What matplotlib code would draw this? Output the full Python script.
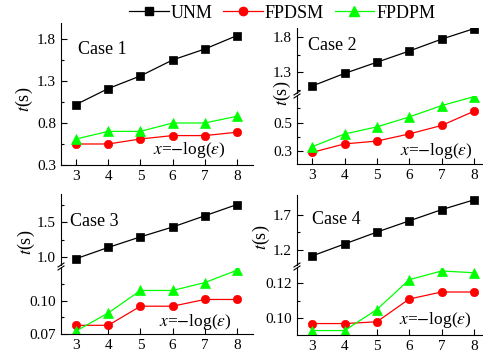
import matplotlib
matplotlib.use('Agg')
import matplotlib.pyplot as plt
from matplotlib.lines import Line2D

plt.rcParams['font.family'] = ['Liberation Serif', 'DejaVu Serif']
plt.rcParams['mathtext.fontset'] = 'stix'
plt.rcParams['font.size'] = 11

x = [3, 4, 5, 6, 7, 8]

# Case 1
unm_1 = [1.02, 1.21, 1.36, 1.55, 1.68, 1.84]
fpdsm_1 = [0.55, 0.55, 0.61, 0.65, 0.65, 0.69]
fpdpm_1 = [0.61, 0.70, 0.70, 0.80, 0.80, 0.88]
# Case 2
unm_2 = [1.10, 1.28, 1.44, 1.60, 1.77, 1.92]
fpdsm_2 = [0.29, 0.35, 0.37, 0.42, 0.48, 0.58]
fpdpm_2 = [0.33, 0.42, 0.47, 0.54, 0.62, 0.683]
# Case 3
unm_3 = [0.98, 1.14, 1.29, 1.43, 1.59, 1.75]
fpdsm_3 = [0.078, 0.078, 0.095, 0.095, 0.101, 0.101]
fpdpm_3 = [0.073, 0.089, 0.109, 0.109, 0.116, 0.127]
# Case 4
unm_4 = [1.11, 1.28, 1.45, 1.61, 1.77, 1.91]
fpdsm_4 = [0.097, 0.097, 0.098, 0.111, 0.115, 0.115]
fpdpm_4 = [0.093, 0.093, 0.105, 0.122, 0.127, 0.126]

W, H = 483, 358
fig = plt.figure(figsize=(W / 100, H / 100), dpi=100)


def box(l, t, r, b):
    # piksel -> koordinat figure
    return [l / W, 1 - b / H, (r - l) / W, (b - t) / H]


def px(xp, yp):
    return xp / W, 1 - yp / H


styles = [
    dict(color='black', marker='s', ms=5.5),
    dict(color='red', marker='o', ms=6),
    dict(color='#00ff00', marker='^', ms=6.5),
]


def style_ax(ax, bottom=True):
    for s in ['top', 'right']:
        ax.spines[s].set_visible(False)
    ax.tick_params(direction='in', length=4, width=0.8, labelsize=11)
    ax.tick_params(which='minor', direction='in', length=2.5, width=0.8)
    ax.set_xlim(2.53, 8.5)
    ax.set_xticks(x)
    ax.xaxis.set_minor_locator(plt.NullLocator())
    if not bottom:
        ax.spines['bottom'].set_visible(False)
        ax.tick_params(axis='x', bottom=False, labelbottom=False)


def draw(ax, series):
    for ys, st in zip(series, styles):
        ax.plot(x, ys, lw=0.9, markeredgewidth=0.5, markeredgecolor=st['color'], **st)


def yticks(ax, major, minor, fmt):
    ax.set_yticks(major)
    ax.set_yticks(minor, minor=True)
    ax.set_yticklabels([fmt % v for v in major])


def break_mark(xp, yp):
    for dy in (-1.5, 1.5):
        x0, y0 = px(xp - 3, yp + dy + 2)
        x1, y1 = px(xp + 3, yp + dy - 2)
        fig.add_artist(Line2D([x0, x1], [y0, y1], color='black', lw=0.8))


# Panel 1
ax1 = fig.add_axes(box(61, 23, 253, 165))
style_ax(ax1)
draw(ax1, [unm_1, fpdsm_1, fpdpm_1])
ax1.set_ylim(0.3, 1.99)
yticks(ax1, [0.3, 0.8, 1.3, 1.8], [0.55, 1.05, 1.55], '%.1f')

# Panel 2
ax2u = fig.add_axes(box(297, 28, 490, 93))
ax2l = fig.add_axes(box(297, 96, 490, 164.3))
style_ax(ax2u, bottom=False)
style_ax(ax2l)
draw(ax2u, [unm_2, fpdsm_2, fpdpm_2])
draw(ax2l, [unm_2, fpdsm_2, fpdpm_2])
ax2u.set_ylim(1.0, 1.93)
ax2l.set_ylim(0.206, 0.688)
yticks(ax2u, [1.3, 1.8], [1.05, 1.55], '%.1f')
yticks(ax2l, [0.3, 0.5], [0.4, 0.6], '%.1f')
break_mark(297, 94.5)

# Panel 3
ax3u = fig.add_axes(box(61, 194, 253, 265))
ax3l = fig.add_axes(box(61, 268, 253, 334.3))
style_ax(ax3u, bottom=False)
style_ax(ax3l)
draw(ax3u, [unm_3, fpdsm_3, fpdpm_3])
draw(ax3l, [unm_3, fpdsm_3, fpdpm_3])
ax3u.set_ylim(0.89, 1.9)
ax3l.set_ylim(0.07, 0.129)
yticks(ax3u, [1.0, 1.5], [1.25, 1.75], '%.1f')
yticks(ax3l, [0.07, 0.10], [0.085, 0.115], '%.2f')
break_mark(61, 266.5)

# Panel 4
ax4u = fig.add_axes(box(297, 195, 490, 265))
ax4l = fig.add_axes(box(297, 268, 490, 335.3))
style_ax(ax4u, bottom=False)
style_ax(ax4l)
draw(ax4u, [unm_4, fpdsm_4, fpdpm_4])
draw(ax4l, [unm_4, fpdsm_4, fpdpm_4])
ax4u.set_ylim(0.98, 1.98)
ax4l.set_ylim(0.0903, 0.1287)
yticks(ax4u, [1.2, 1.7], [1.45], '%.1f')
yticks(ax4l, [0.10, 0.12], [0.11], '%.2f')
break_mark(297, 266.5)

# Teks di dalam panel
cases = [('Case 1', 78, 50), ('Case 2', 308, 45), ('Case 3', 70, 221), ('Case 4', 312, 219)]
for label, xp, yp in cases:
    fig.text(*px(xp, yp), label, fontsize=13, ha='left', va='center')

xlabels = [(189, 150), (436, 151), (195, 322), (435, 320)]
for xp, yp in xlabels:
    fig.text(*px(xp, yp), r'$x$=$-$log($\varepsilon$)', fontsize=12.5, ha='center', va='center')

ylabels = [(24, 99), (282, 93), (26, 242), (261, 237)]
for xp, yp in ylabels:
    fig.text(*px(xp, yp), r'$t$(s)', fontsize=13, rotation=90, ha='center', va='center')

# Legenda
handles = [Line2D([], [], lw=0.9, **st) for st in styles]
fig.legend(handles, ['UNM', 'FPDSM', 'FPDPM'], loc='center', bbox_to_anchor=px(282, 13),
           ncol=3, frameon=False, fontsize=13, handlelength=2.2, handletextpad=0.1,
           columnspacing=0.6, borderaxespad=0)

fig.savefig('out.png', dpi=100)
